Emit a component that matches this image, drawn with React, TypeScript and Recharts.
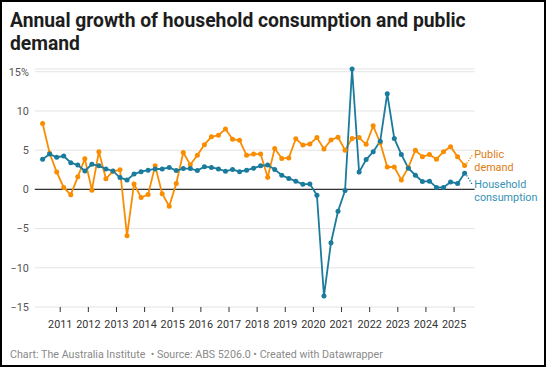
import React from 'react';
import { LineChart, Line, XAxis, YAxis, CartesianGrid, ReferenceLine } from 'recharts';

// quarterly, 2010Q2 .. 2025Q2
const firstYear = 2010;
const firstQuarter = 2;

const householdConsumption = [
  3.85, 4.5, 4.1, 4.25, 3.4, 3.1, 2.35, 3.2, 3.0, 2.6, 2.35, 1.5, 1.2, 1.95, 2.25, 2.45,
  2.6, 2.6, 2.8, 2.4, 2.65, 2.65, 2.4, 2.9, 2.8, 2.6, 2.3, 2.55, 2.25, 2.45, 2.7, 3.0,
  3.1, 2.55, 1.8, 1.4, 1.05, 0.65, 0.7, -0.75, -13.6, -6.8, -2.8, -0.15, 15.35, 2.2,
  3.8, 4.8, 6.15, 12.2, 6.5, 4.45, 2.7, 1.8, 1.0, 1.05, 0.25, 0.25, 0.95, 0.75, 2.05,
];

const publicDemand = [
  8.4, 4.6, 2.2, 0.25, -0.7, 1.6, 3.9, -0.1, 4.8, 1.35, 2.3, 2.5, -5.9, 0.7, -1.05, -0.65,
  3.0, -0.55, -2.15, 0.75, 4.7, 3.15, 4.35, 5.7, 6.7, 6.9, 7.7, 6.4, 6.25, 4.35, 4.5, 4.5,
  1.55, 5.2, 3.95, 4.0, 6.45, 5.65, 5.8, 6.6, 5.15, 6.3, 6.65, 5.0, 6.5, 6.6, 5.75, 8.1,
  5.95, 2.85, 2.85, 1.2, 2.8, 5.0, 4.15, 4.45, 3.85, 4.8, 5.45, 4.15, 3.05,
];

const yearTicks = [2011, 2012, 2013, 2014, 2015, 2016, 2017, 2018, 2019, 2020, 2021, 2022, 2023, 2024, 2025];
const valueTicks = [-15, -10, -5, 0, 5, 10, 15];

const BLUE = '#1a7b9c';
const ORANGE = '#fa8c00';

// each quarter sits in the middle of its three months
const chartData = householdConsumption.map((h, i) => {
  const q = firstQuarter - 1 + i;
  const year = firstYear + Math.floor(q / 4);
  const quarter = (q % 4) + 1;
  return {
    t: year + (quarter - 1) * 0.25 + 0.125,
    household: h,
    public: publicDemand[i],
  };
});
const lastIndex = chartData.length - 1;

const fmtValue = (v: number) => (v === 15 ? '15%' : v < 0 ? `\u2212${-v}` : `${v}`);

const makeDot = (color: string, labelColor: string, lines: string[], below: boolean) => (props: any) => {
  const { cx, cy, index } = props;
  if (cx == null || cy == null) return <g key={`d-${index}`} />;
  const isLast = index === lastIndex;
  const base = below ? cy + 15 : cy - 7.3;
  return (
    <g key={`d-${index}`}>
      <circle cx={cx} cy={cy} r={2.5} fill={color} />
      {isLast && (
        <g>
          <line
            x1={cx + 2}
            y1={below ? cy + 2 : cy - 2}
            x2={cx + 7.5}
            y2={below ? cy + 11 : cy - 10}
            stroke={color}
            strokeWidth={1.3}
            strokeDasharray="1.3 1.6"
          />
          {lines.map((l, k) => (
            <text key={k} x={cx + 9.7} y={base + k * 12.5} fill={labelColor} fontSize={10.8} fontFamily="Roboto">
              {l}
            </text>
          ))}
        </g>
      )}
    </g>
  );
};

export default function App() {
  return (
    <div style={{ position: 'absolute', left: 0, top: 0, width: 546, height: 367, background: '#fff', fontFamily: 'Roboto' }}>
      <div
        style={{
          position: 'absolute',
          left: 10,
          top: 9,
          fontSize: 19.3,
          lineHeight: '23px',
          fontWeight: 700,
          color: '#1d1d1d',
        }}
      >
        Annual growth of household consumption and public
        <br />
        demand
      </div>
      <div style={{ position: 'absolute', left: 0, top: 0 }}>
        <LineChart width={546} height={340} data={chartData} margin={{ top: 69, right: 71.4, left: 4.8, bottom: 8 }}>
          <CartesianGrid vertical={false} stroke="#e3e3e3" strokeWidth={1} />
          <XAxis
            type="number"
            dataKey="t"
            domain={[2010.097, 2025.73]}
            ticks={yearTicks}
            interval={0}
            height={25}
            axisLine={false}
            tickLine={{ stroke: '#333' }}
            tickSize={5}
            tickMargin={8}
            tick={{ fill: '#333', fontSize: 10.8 }}
          />
          <YAxis
            type="number"
            domain={[-15, 15]}
            ticks={valueTicks}
            width={30}
            axisLine={false}
            tickLine={false}
            tickSize={4}
            tickMargin={2}
            tickFormatter={fmtValue}
            tick={{ fill: '#555', fontSize: 10.8 }}
          />
          <ReferenceLine y={0} stroke="#333" strokeWidth={1.2} />
          <Line
            dataKey="public"
            stroke={ORANGE}
            strokeWidth={1.8}
            dot={makeDot(ORANGE, '#dc7b10', ['Public', 'demand'], false)}
            activeDot={false}
            isAnimationActive={false}
          />
          <Line
            dataKey="household"
            stroke={BLUE}
            strokeWidth={1.8}
            dot={makeDot(BLUE, '#3592b5', ['Household', 'consumption'], true)}
            activeDot={false}
            isAnimationActive={false}
          />
        </LineChart>
      </div>
      <div
        style={{
          position: 'absolute',
          left: 10,
          top: 348,
          fontSize: 10.7,
          color: '#8a8a8a',
          whiteSpace: 'pre',
        }}
      >
        {'Chart: The Australia Institute  \u2022 Source: ABS 5206.0 \u2022 Created with Datawrapper'}
      </div>
      <div
        style={{
          position: 'absolute',
          left: 0,
          top: 0,
          width: 546,
          height: 367,
          boxSizing: 'border-box',
          border: '2px solid #000',
          pointerEvents: 'none',
        }}
      />
    </div>
  );
}
